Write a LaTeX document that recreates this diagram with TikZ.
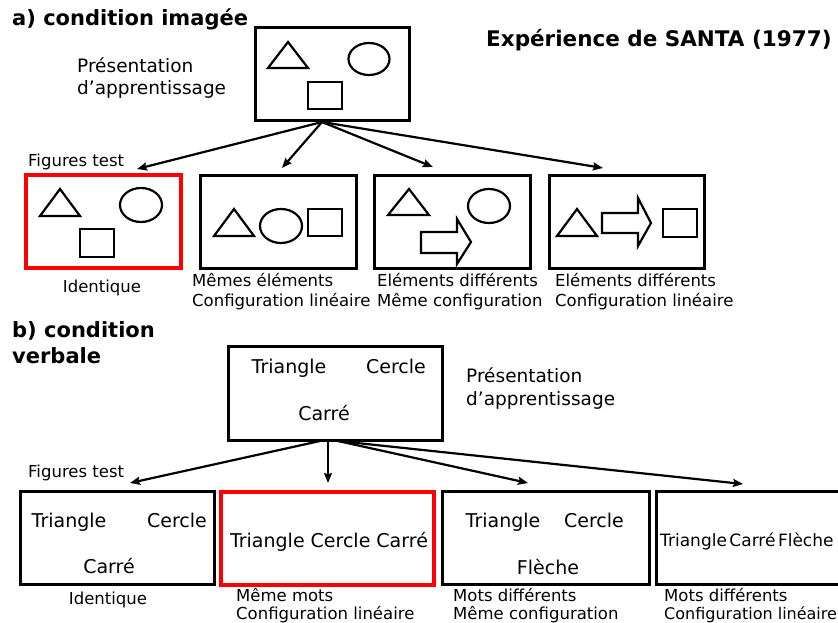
\documentclass[tikz,border=0pt]{standalone}
\usepackage{fontspec}
\setmainfont{DejaVu Sans}
\usetikzlibrary{arrows.meta}
\definecolor{santared}{RGB}{255,0,0}

\begin{document}
\begin{tikzpicture}[x=1pt, y=-1pt,
    box/.style={draw, rectangle, line width=3pt, minimum height=93pt, inner sep=0pt},
    redbox/.style={box, draw=santared, line width=4pt},
    fig/.style={line width=2.2pt},
    conn/.style={line width=2.2pt, -{Stealth[length=10pt,width=8pt,inset=1.5pt]}},
    title/.style={anchor=base west, inner sep=0pt, font=\bfseries\fontsize{21}{24}\selectfont},
    word/.style={anchor=base, inner sep=0pt, font=\fontsize{19}{22}\selectfont},
    expl/.style={anchor=base west, inner sep=0pt, font=\fontsize{18.5}{22}\selectfont},
    note/.style={anchor=base west, inner sep=0pt, font=\fontsize{16.5}{20}\selectfont}]
    \useasboundingbox (0,0) rectangle (838,623);
    \clip (0,0) rectangle (838,623);

    % a) condition imagee
    \node[title] (ta) at (12,26) {a) condition imagée};
    \node[title, font=\bfseries\fontsize{21.5}{24}\selectfont] (santa) at (486,47) {Expérience de SANTA (1977)};
    \node[expl] (pra1) at (77,73) {Présentation};
    \node[expl] (pra2) at (77,95) {d’apprentissage};
    \node[box, minimum width=154pt] (pa) at (332,74.5) {};
    \node[note] (fta) at (28,167) {Figures test};

    \node[redbox, minimum width=155pt] (ta1) at (103.5,221.5) {};
    \node[box, minimum width=156pt] (ta2) at (278,221.5) {};
    \node[box, minimum width=156pt] (ta3) at (452,221.5) {};
    \node[box, minimum width=155pt] (ta4) at (626.5,221.5) {};

    \coordinate (pa-out) at (322,122);
    \foreach \i/\x/\y in {1/137/169, 2/282/168, 3/433/167, 4/603/168} {
        \coordinate (ia\i) at (\x,\y);
        \draw[conn] (pa-out) -- (ia\i);
    }

    \draw[fig] (268,68) -- (288,42) -- (308,68) -- cycle;
    \draw[fig] (369,59) ellipse [x radius=20.5, y radius=16];
    \draw[fig] (308,82) rectangle (342,109);

    \draw[fig] (40,216) -- (60,189) -- (80,216) -- cycle;
    \draw[fig] (141,205) ellipse [x radius=21, y radius=17];
    \draw[fig] (80,229) rectangle (114,257);

    \draw[fig] (214,236) -- (234,209) -- (254,236) -- cycle;
    \draw[fig] (281,226) ellipse [x radius=21, y radius=17];
    \draw[fig] (308,209) rectangle (342,236);

    \draw[fig] (388,215) -- (409,189) -- (429,215) -- cycle;
    \draw[fig] (489,206) ellipse [x radius=21, y radius=17];
    \draw[fig] (421,232) -- (457,232) -- (457,219) -- (471,242) -- (457,264) -- (457,253) -- (421,253) -- cycle;

    \draw[fig] (557,236) -- (577,209) -- (597,236) -- cycle;
    \draw[fig] (602,213) -- (638,213) -- (638,198) -- (651,223) -- (638,246) -- (638,233) -- (602,233) -- cycle;
    \draw[fig] (663,209) rectangle (697,237);

    \node[note, anchor=base] (ida) at (102,292) {Identique};
    \foreach \n/\x/\a/\b in {2/192/Mêmes éléments/Configuration linéaire,
                             3/377/Eléments différents/Même configuration,
                             4/555/Eléments différents/Configuration linéaire} {
        \node[note] (la\n a) at (\x,286) {\a};
        \node[note] (la\n b) at (\x,306) {\b};
    }

    % b) condition verbale
    \node[title] (tb) at (12,337) {b) condition};
    \node[title] (tbb) at (12,363) {verbale};
    \node[expl] (prb1) at (466,382) {Présentation};
    \node[expl] (prb2) at (466,405) {d’apprentissage};
    \node[box, minimum width=214pt, minimum height=94pt] (pb) at (335,393) {};
    \node[word] (pbt) at (289,373) {Triangle};
    \node[word] (pbc) at (396,373) {Cercle};
    \node[word] (pbk) at (324,420) {Carré};
    \node[note] (ftb) at (28,477) {Figures test};

    \node[box, minimum width=194pt] (tb1) at (117,538) {};
    \node[redbox, minimum width=213pt] (tb2) at (327.5,538) {};
    \node[box, minimum width=207pt] (tb3) at (545.5,538) {};
    \node[box, minimum width=200pt] (tb4) at (756,538) {};

    \coordinate (pb-out1) at (320,441);
    \coordinate (pb-out2) at (328,441);
    \coordinate (pb-out3) at (338,441);
    \coordinate (ib1) at (130,483);
    \coordinate (ib2) at (328,483);
    \coordinate (ib3) at (528,483);
    \coordinate (ib4) at (743,484);
    \draw[conn] (pb-out1) -- (ib1);
    \draw[conn] (pb-out2) -- (ib2);
    \draw[conn] (pb-out3) -- (ib3);
    \draw[conn] (pb-out3) -- (ib4);

    \node[word] (tb1t) at (69,527) {Triangle};
    \node[word] (tb1c) at (177,527) {Cercle};
    \node[word] (tb1k) at (109,573) {Carré};
    \node[word] (tb2t) at (329,547) {Triangle Cercle Carré};
    \node[word] (tb3t) at (503,527) {Triangle};
    \node[word] (tb3c) at (594,527) {Cercle};
    \node[word] (tb3f) at (548,574) {Flèche};
    \node[word, anchor=base west, font=\fontsize{17}{20}\selectfont] (tb4t) at (660,546) {Triangle\hspace{2.5pt}Carré\hspace{2.5pt}Flèche};

    \node[note, anchor=base] (idb) at (108,604) {Identique};
    \foreach \n/\x/\a/\b in {2/236/Même mots/Configuration linéaire,
                             3/453/Mots différents/Même configuration} {
        \node[note] (lb\n a) at (\x,601) {\a};
        \node[note] (lb\n b) at (\x,619) {\b};
    }
    \node[note] (lb4a) at (664,601) {Mots différents};
    \node[note, font=\fontsize{16}{20}\selectfont] (lb4b) at (664,619) {Configuration linéaire};
\end{tikzpicture}
\end{document}
